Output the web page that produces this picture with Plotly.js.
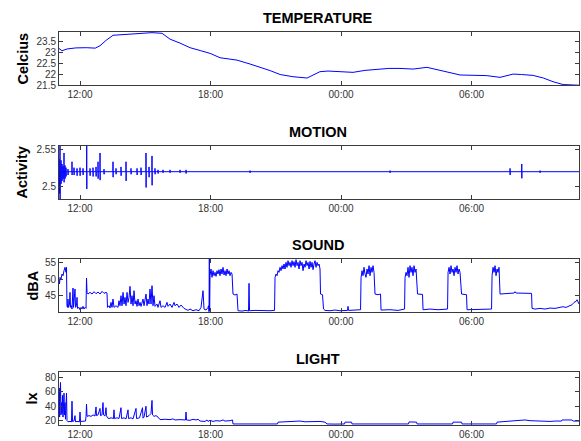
<!DOCTYPE html>
<html><head><meta charset="utf-8">
<script src="https://cdn.plot.ly/plotly-3.0.1.min.js"></script>
<style>html,body{margin:0;padding:0;background:#fff}#chart{width:581px;height:441px}</style>
</head><body><div id="chart"></div>
<script>
// ---- shared time axis (hours since midnight of day 1) ----
const timeRange = [11.034, 34.94];
const timeTickVals = [12, 18, 24, 30];
const timeTickText = ["12:00", "18:00", "00:00", "06:00"];

// ---- TEMPERATURE ----
const tempT = [11.03,11.17,11.4,11.8,12.3,12.7,12.92,13.2,13.52,13.9,14.21,14.57,15.03,15.31,15.77,16.14,16.6,17.06,17.52,17.98,18.44,18.99,19.22,19.82,20.3,20.74,21.2,21.79,22.44,23.03,23.4,24.0,24.55,25.1,25.66,26.2,26.71,27.31,27.95,28.3,28.69,29.47,30.07,30.7,31.31,31.91,32.3,32.83,33.3,33.75,34.21,34.6,34.94];
const tempC = [23.18,23.07,23.15,23.2,23.21,23.19,23.3,23.55,23.78,23.8,23.82,23.86,23.88,23.9,23.87,23.6,23.42,23.21,23.08,22.95,22.75,22.67,22.64,22.46,22.32,22.16,21.98,21.88,21.82,22.11,22.14,22.1,22.08,22.17,22.23,22.26,22.26,22.23,22.31,22.24,22.14,21.96,21.94,21.93,21.85,22.0,21.98,21.94,21.82,21.65,21.52,21.5,21.49];
const tempTickVals = [21.5, 22, 22.5, 23, 23.5];
const tempTickText = ["21.5", "22", "22.5", "23", "23.5"];

// ---- MOTION (baseline with spikes) ----
const motionBase = 2.5195;
const motionT = [11.034,11.057,11.08,11.126,11.172,11.218,11.264,11.31,11.356,11.448,11.632,11.724,11.862,12.0,12.138,12.308,12.46,12.598,12.736,12.828,12.92,13.103,13.517,13.655,13.885,14.115,14.345,14.621,14.805,15.034,15.172,15.31,15.448,15.586,15.816,16.138,16.598,16.874,19.816,26.253,31.77,32.308,33.149];
const motionHi = [2.537,2.523,2.5545,2.535,2.53,2.527,2.545,2.528,2.525,2.523,2.533,2.525,2.524,2.525,2.524,2.5545,2.524,2.525,2.526,2.533,2.545,2.523,2.533,2.524,2.526,2.533,2.524,2.524,2.525,2.545,2.526,2.541,2.524,2.522,2.522,2.522,2.522,2.522,2.521,2.521,2.524,2.530,2.521];
const motionLo = [2.505,2.49,2.482,2.503,2.507,2.51,2.505,2.51,2.513,2.515,2.515,2.515,2.514,2.514,2.515,2.496,2.514,2.513,2.513,2.51,2.508,2.516,2.512,2.516,2.514,2.507,2.516,2.515,2.515,2.498,2.512,2.501,2.516,2.517,2.518,2.518,2.518,2.517,2.518,2.518,2.515,2.5105,2.518];
const motionTickVals = [2.5, 2.55];
const motionTickText = ["2.5", "2.55"];

// ---- SOUND ----
const soundT = [
 11.034,11.057,11.08,11.126,11.172,11.218,11.264,11.31,11.356,11.379,
 11.40,11.425,11.448,11.471,11.517,11.54,11.563,11.609,11.632,11.678,11.701,11.724,11.77,11.793,11.839,11.862,11.885,11.954,12.0,12.046,12.092,12.138,12.184,12.23,12.276,
 12.299,12.322,12.368,12.46,12.552,12.644,12.736,12.828,12.92,13.011,13.103,13.195,13.241,
 13.264,13.333,13.379,13.425,13.471,13.517,13.563,13.655,13.747,13.793,13.839,13.885,13.931,13.977,14.023,14.069,14.115,14.161,14.207,14.253,14.299,14.345,14.391,14.437,14.483,14.529,14.575,14.621,14.667,14.713,14.759,14.805,14.897,14.943,
 15.034,15.08,15.126,15.172,15.218,15.264,15.31,15.356,15.402,15.448,15.54,15.586,15.678,15.724,15.816,15.908,16.0,16.046,16.138,16.23,16.322,16.368,16.46,16.552,16.644,16.782,16.874,16.966,17.057,17.195,17.333,17.471,17.563,17.655,17.701,17.793,17.885,17.908,17.931,17.945,17.959,
 17.977,18.023,18.069,18.115,18.161,18.207,18.253,18.299,18.345,18.391,18.437,18.483,18.529,18.575,18.621,18.667,18.713,18.759,18.805,18.851,18.897,18.943,18.989,
 19.034,19.126,19.218,19.264,19.448,19.632,19.747,19.77,19.793,20.046,20.276,20.506,20.736,20.943,
 20.966,21.011,21.057,21.103,21.149,21.195,21.241,21.287,21.333,21.379,21.425,21.471,21.517,21.563,21.609,21.655,21.701,21.747,21.793,21.839,21.885,21.931,21.977,22.023,22.069,22.115,22.161,22.207,22.253,22.299,22.345,22.391,22.437,22.483,22.529,22.575,22.621,22.667,22.713,22.759,22.805,22.851,22.897,22.943,22.989,23.034,
 23.057,23.149,23.195,23.264,23.494,23.724,23.954,24.299,24.322,24.345,24.644,24.897,
 24.92,24.966,25.011,25.057,25.103,25.149,25.195,25.241,25.287,25.333,25.379,25.425,25.471,25.517,
 25.563,25.701,25.816,25.839,26.253,26.621,26.92,
 26.943,26.989,27.034,27.08,27.126,27.172,27.218,27.264,27.31,27.356,27.402,27.448,
 27.517,27.747,27.77,28.092,28.46,28.897,
 28.92,28.966,29.011,29.057,29.103,29.149,29.195,29.241,29.287,29.333,29.379,29.425,29.471,
 29.54,29.77,29.793,30.161,30.621,30.92,
 30.943,30.989,31.034,31.08,31.126,31.172,31.218,31.264,
 31.31,31.54,31.77,31.954,32.0,32.046,32.759,
 32.782,32.92,33.149,33.379,33.609,33.839,34.069,34.207,34.345,34.483,34.621,34.713,34.805,34.851,34.897,34.94];
const soundDb = [
 49.8,48.5,50.5,50,51.5,51,52.5,53.5,52,53.5,
 42,41.5,44,41.5,42.5,46,41.5,42,41,47.3,41.5,43,47,41.5,42,44.5,41.2,41.5,40.8,41.5,41,41.8,41,41.5,41.2,
 50.3,46,45.5,46,45.5,46.2,45.6,46.1,45.5,46.3,45.7,46,45.8,
 41.5,42,41.3,43,41.5,44,41.5,42,41.5,43.5,42,45,42,46,42.5,44.5,42,46,43,44.5,47.8,42.5,45,42,46.5,42.5,43.5,41.8,44,42,43,41.8,44,42,
 45.5,42,44,42.5,47,42.5,48,42,45,41.8,42.5,41.5,43.5,41.5,42,41.5,43,41.8,42.5,41.5,43,42,42.5,41.5,42.2,41.2,41,40.6,41,40.5,40.8,40.5,41.5,46.5,41,40.7,41.5,42,40.2,56,40.5,
 51,53,50.5,52.5,51,52,50.8,52.5,51.5,52.8,51,53,51.5,53.5,51.2,52.5,51,53,51.5,52.5,51,52,51.5,
 45.5,45.2,45.5,40.5,40.4,40.6,40.4,48.7,40.5,40.6,40.5,40.6,40.5,40.6,
 50.5,51.5,51,52.5,52,53.5,52.5,54,53,54.5,53,55,53.5,55.5,54,55,53.5,55.5,54,55.2,53.5,55.8,54,55,53,55.5,54,55,52.5,54.5,53.5,55.5,54,55,53,55.3,53.5,55,52.8,54.5,55.5,53.5,55,54,54.5,53,
 45.5,45.3,41,40.6,40.5,40.7,40.5,40.6,41.8,40.6,40.7,40.8,
 50.5,52.5,51,53.5,51.5,50.5,53,51.5,54,51,53.5,52,54,52,
 45.5,45.3,45.5,40.7,40.8,40.6,41,
 50.5,52,51,53.5,50.5,54,52,53.5,51,54,52,53,
 45.5,45.4,40.8,41,40.8,41,
 52,53.5,51.5,54,52,53,51,53.5,52,54,51.5,53,52,
 45.5,45.3,40.8,40.9,40.8,41,
 51,53.5,52,54,51,53,52,53.5,
 45.5,45.6,45.7,45.8,46.2,45.8,45.7,
 41.2,41,41.2,41,41.3,41.2,41.5,41.7,41.5,42,42.3,43,43.3,43.8,43,42.5];
const soundTickVals = [45, 50, 55];
const soundTickText = ["45", "50", "55"];

// ---- LIGHT ----
const lightT = [
 11.034,11.048,11.062,11.08,11.103,11.126,11.149,11.172,11.195,11.218,11.241,11.264,11.287,11.31,11.333,11.356,11.379,11.402,
 11.448,11.54,11.609,11.632,11.655,11.724,11.77,11.793,11.862,11.977,12.0,12.023,12.138,12.253,
 12.276,12.299,12.322,12.414,12.506,12.598,12.69,12.736,12.759,12.828,12.92,12.943,13.011,13.057,13.08,13.149,13.195,13.218,
 13.264,13.333,13.425,13.54,13.563,13.586,13.701,13.793,13.885,13.908,14.023,14.115,14.207,14.23,14.345,14.437,14.575,14.598,14.736,14.874,14.897,14.943,15.034,15.057,15.172,15.264,15.31,15.333,15.402,15.494,15.586,
 15.678,15.908,16.138,16.276,16.368,16.598,16.851,16.874,16.897,17.057,17.195,17.333,17.425,17.517,17.747,17.839,17.885,17.977,18.115,18.253,18.437,18.575,18.667,18.897,19.011,
 19.034,19.356,19.816,20.276,20.736,21.08,21.103,21.425,21.655,21.885,22.115,22.345,22.575,22.805,23.034,23.264,23.356,23.724,24.161,24.184,24.483,24.506,25.103,25.793,27.103,27.126,27.471,27.494,28.322,29.126,29.149,29.54,29.563,30.391,31.149,31.172,31.54,31.77,32.0,32.23,32.46,32.69,32.92,33.149,33.609,33.839,34.138,34.161,34.621,34.667,34.94];
const lightLx = [
 30,65,25,50,73,28,45,30,55,25,40,58,28,45,22,35,58,20,
 18.5,19,18.5,47,19,19.5,27,18.5,19,18.5,32,19,19,19.5,
 26,43,26,27,26,28,26.5,39,27,28,37,27,28,45,28,26.5,38,27,
 24,23,24,23,35,23,24,23,38,23,24,22.5,35,23,24,22.5,37,23,24,38,23.5,25,40,25,27,30,48,28,26,27,25,
 21.5,22,21.5,22.5,21,21.5,21,32,21,20.5,22,21,22,19.5,19,21,19,20.5,19,20,19.5,21,19.5,20,21,
 15.5,15.3,15.5,15.3,15.5,15.5,18,18.5,19,18.5,19.5,18.5,19,18.5,19,18,15.5,15.3,15.5,18,18,15.5,15.3,15.5,15.5,18.3,18,15.5,15.3,15.5,18,18,15.5,15.3,15.5,18,18.5,19,20,20.5,21,20,19.5,19,19,19.5,19.5,21,21,19.5,19.5];
const lightTickVals = [20, 40, 60, 80];
const lightTickText = ["20", "40", "60", "80"];

// ---- build motion trace from baseline + spike table ----
const mX = [timeRange[0]], mY = [motionBase];
for (let i = 0; i < motionT.length; i++) {
  mX.push(motionT[i] - 0.004, motionT[i], motionT[i] + 0.004, motionT[i] + 0.008);
  mY.push(motionBase, motionHi[i], motionLo[i], motionBase);
}
mX.push(timeRange[1]); mY.push(motionBase);

const lineStyle = {color: 'rgb(0,0,255)', width: 1};
const traces = [
  {x: tempT, y: tempC, xaxis: 'x', yaxis: 'y', mode: 'lines', line: lineStyle, hoverinfo: 'skip'},
  {x: mX, y: mY, xaxis: 'x2', yaxis: 'y2', mode: 'lines', line: lineStyle, hoverinfo: 'skip'},
  {x: soundT, y: soundDb, xaxis: 'x3', yaxis: 'y3', mode: 'lines', line: lineStyle, hoverinfo: 'skip'},
  {x: lightT, y: lightLx, xaxis: 'x4', yaxis: 'y4', mode: 'lines', line: lineStyle, hoverinfo: 'skip'}
];

const FONT = 'Liberation Sans, Arial, sans-serif';
const axisColor = '#3a3a3a';
function xAxis(anchor) {
  return {domain: [0, 1], anchor: anchor, range: timeRange, tickmode: 'array',
    tickvals: timeTickVals, ticktext: timeTickText, ticks: 'inside', ticklen: 4,
    tickcolor: axisColor, showline: true, linecolor: axisColor, linewidth: 1, mirror: 'ticks',
    showgrid: false, zeroline: false, fixedrange: true,
    tickfont: {family: FONT, size: 10, color: '#333'}};
}
function yAxis(anchor, domain, range, tv, tt) {
  return {domain: domain, anchor: anchor, range: range, tickmode: 'array',
    tickvals: tv, ticktext: tt, ticks: 'inside', ticklen: 4,
    tickcolor: axisColor, showline: true, linecolor: axisColor, linewidth: 1, mirror: 'ticks',
    showgrid: false, zeroline: false, fixedrange: true,
    tickfont: {family: FONT, size: 10, color: '#333'}};
}
// plot-area is y=10..431 px; domains from pixel positions
const PH = 421, PB = 431;
const dom = (top, bot) => [(PB - bot) / PH, (PB - top) / PH];
const PL = 59, PW = 520;
const px = (x) => (x - PL) / PW;
const py = (y) => (PB - y) / PH;

const titleFont = {family: FONT, size: 14.5, color: '#000', weight: 'bold'};
function title(text, y) {
  return {text: text, xref: 'paper', yref: 'paper', x: px(318), y: py(y), xanchor: 'center', yanchor: 'middle', showarrow: false, font: titleFont};
}
function ylab(text, x, y) {
  return {text: text, xref: 'paper', yref: 'paper', x: px(x), y: py(y), xanchor: 'center', yanchor: 'middle', textangle: -90, showarrow: false, font: titleFont};
}

const layout = {
  width: 581, height: 441,
  margin: {l: PL, r: 2, t: 10, b: 10},
  paper_bgcolor: '#fff', plot_bgcolor: '#fff',
  showlegend: false,
  xaxis: xAxis('y'), xaxis2: xAxis('y2'), xaxis3: xAxis('y3'), xaxis4: xAxis('y4'),
  yaxis: yAxis('x', dom(32, 85), [21.5, 23.93], tempTickVals, tempTickText),
  yaxis2: yAxis('x2', dom(146, 199), [2.4823, 2.5545], motionTickVals, motionTickText),
  yaxis3: yAxis('x3', dom(259, 312), [40.12, 56], soundTickVals, soundTickText),
  yaxis4: yAxis('x4', dom(372, 425), [14.06, 87.3], lightTickVals, lightTickText),
  annotations: [
    title('TEMPERATURE', 18), title('MOTION', 132), title('SOUND', 245), title('LIGHT', 358.5),
    ylab('Celcius', 22, 58.5), ylab('Activity', 22, 172.5), ylab('dBA', 32, 285.5), ylab('lx', 31, 398.5)
  ]
};
Plotly.newPlot('chart', traces, layout, {displayModeBar: false, staticPlot: true});
</script>
</body></html>
